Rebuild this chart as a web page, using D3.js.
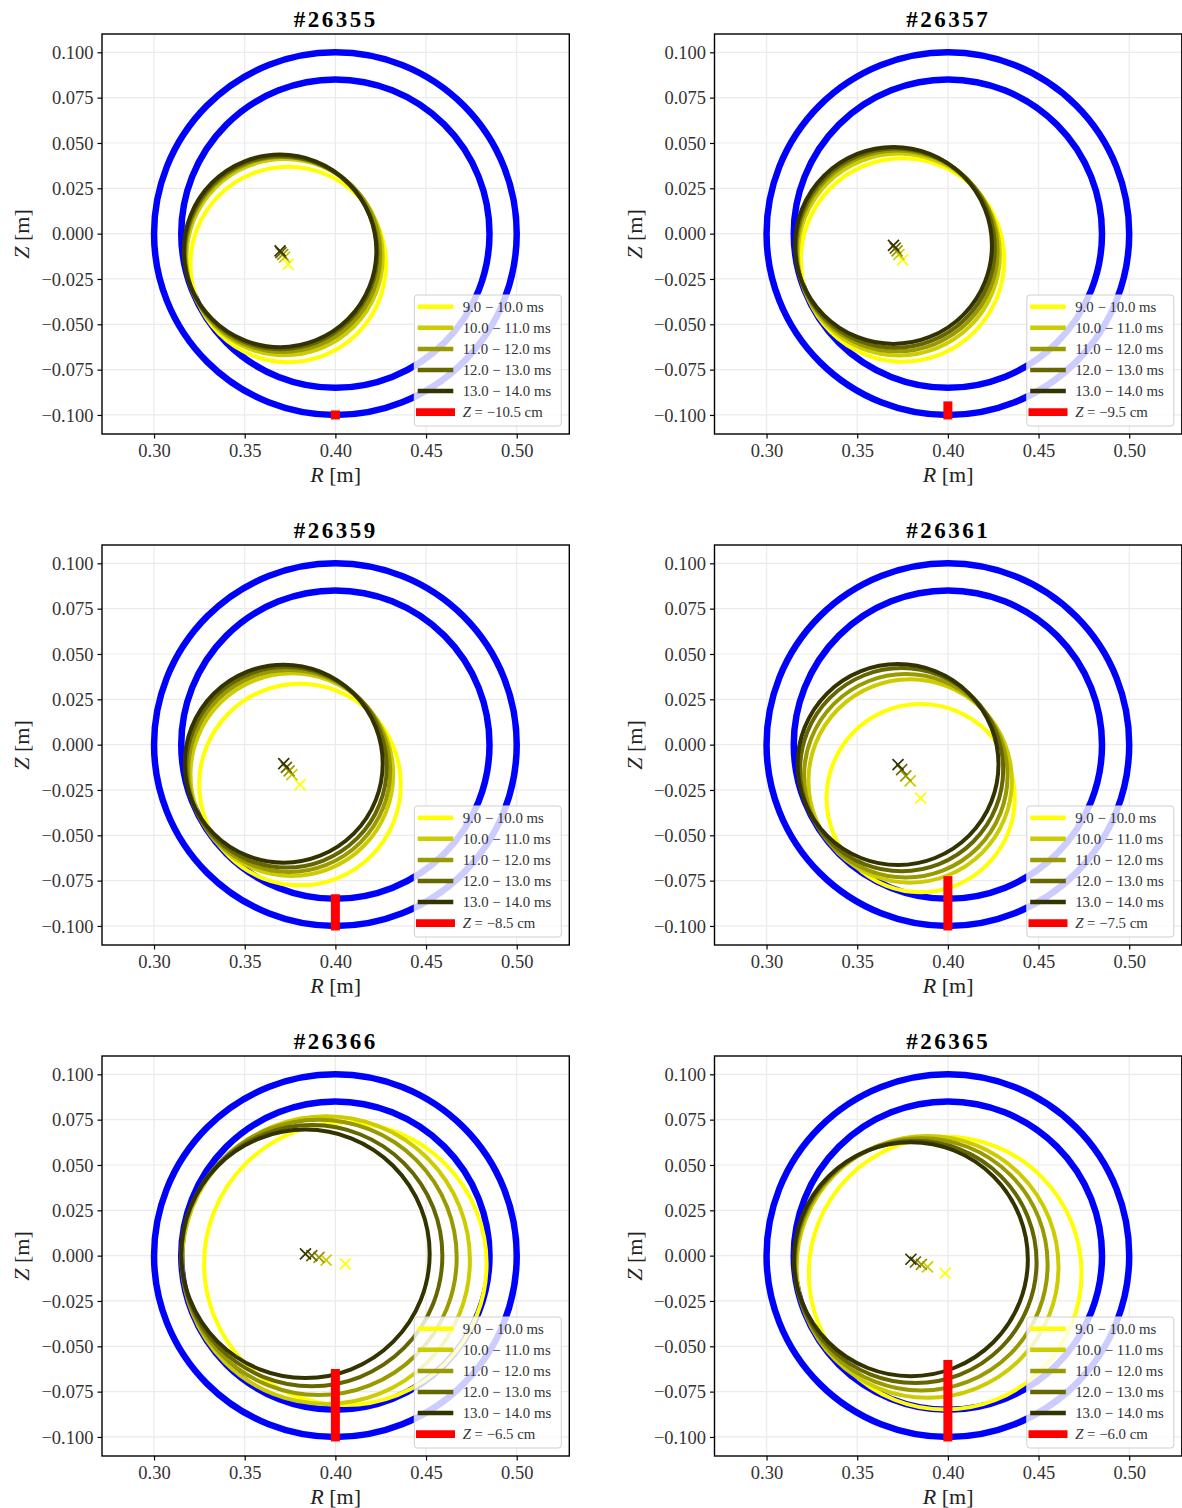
<!DOCTYPE html>
<html><head><meta charset="utf-8">
<script src="https://cdn.jsdelivr.net/npm/d3@7"></script>
<style>body{margin:0;background:#fff}svg{display:block}</style>
</head><body><svg id="c" width="1182" height="1508"></svg>
<script>
// ---------------- data ----------------
const shots = ["#26355", "#26357", "#26359", "#26361", "#26366", "#26365"];
const probeZ = [-0.105, -0.095, -0.085, -0.075, -0.065, -0.060];
const timeWindows = [[9, 10], [10, 11], [11, 12], [12, 13], [13, 14]];
const windowColors = ["#ffff00", "#cccc00", "#999900", "#666600", "#333300"];
const centreR = [
  [0.3740, 0.3720, 0.3710, 0.3700, 0.3695],
  [0.3750, 0.3730, 0.3720, 0.3710, 0.3700],
  [0.3805, 0.3760, 0.3745, 0.3730, 0.3715],
  [0.3850, 0.3792, 0.3768, 0.3745, 0.3725],
  [0.4055, 0.3949, 0.3910, 0.3870, 0.3835],
  [0.3985, 0.3888, 0.3854, 0.3821, 0.3796]
];
const centreZ = [
  [-0.0170, -0.0130, -0.0115, -0.0105, -0.0095],
  [-0.0145, -0.0115, -0.0095, -0.0080, -0.0065],
  [-0.0220, -0.0165, -0.0145, -0.0125, -0.0105],
  [-0.0295, -0.0200, -0.0172, -0.0138, -0.0110],
  [-0.0045, -0.0025, -0.0010, 0.0000, 0.0010],
  [-0.0097, -0.0062, -0.0048, -0.0035, -0.0020]
];
const plasmaRadius = [
  [0.0539, 0.0541, 0.0538, 0.0532, 0.0531],
  [0.0561, 0.0557, 0.0554, 0.0549, 0.0543],
  [0.0556, 0.0559, 0.0557, 0.0553, 0.0546],
  [0.0519, 0.0561, 0.0561, 0.0560, 0.0554],
  [0.0779, 0.0793, 0.0759, 0.0720, 0.0685],
  [0.0752, 0.0722, 0.0696, 0.0668, 0.0645]
];
const wallR = 0.40, wallZ = 0.0;
const wallRadii = [0.100, 0.085];
const xTicks = [0.30, 0.35, 0.40, 0.45, 0.50];
const yTicks = [0.100, 0.075, 0.050, 0.025, 0.000, -0.025, -0.050, -0.075, -0.100];
const xDomain = [0.2713, 0.5290];
const yDomain = [-0.1105, 0.1101];

// ---------------- layout ----------------
const svg = d3.select("#c");
const colX = [0, 612.5], rowY = [0, 511, 1022];
const ax = {left: 102, top: 34, width: 467.3, height: 400};
const serif = "'Liberation Serif', 'DejaVu Serif', serif";
const minus = s => s.replace("-", "\u2212");

const x = d3.scaleLinear().domain(xDomain).range([ax.left, ax.left + ax.width]);
const y = d3.scaleLinear().domain(yDomain).range([ax.top + ax.height, ax.top]);

const defs = svg.append("defs");
defs.append("clipPath").attr("id", "axclip").append("rect")
  .attr("x", ax.left).attr("y", ax.top).attr("width", ax.width).attr("height", ax.height);

shots.forEach((shot, si) => {
  const g = svg.append("g").attr("transform", `translate(${colX[si % 2]},${rowY[Math.floor(si / 2)]})`);
  const plot = g.append("g").attr("clip-path", "url(#axclip)");

  // grid
  plot.selectAll(".gx").data(xTicks).join("line")
    .attr("x1", d => x(d)).attr("x2", d => x(d)).attr("y1", ax.top).attr("y2", ax.top + ax.height)
    .attr("stroke", "#ebebeb").attr("stroke-width", 1.2);
  plot.selectAll(".gy").data(yTicks).join("line")
    .attr("y1", d => y(d)).attr("y2", d => y(d)).attr("x1", ax.left).attr("x2", ax.left + ax.width)
    .attr("stroke", "#ebebeb").attr("stroke-width", 1.2);

  // vessel / limiter circles
  plot.selectAll(".wall").data(wallRadii).join("circle")
    .attr("cx", x(wallR)).attr("cy", y(wallZ)).attr("r", d => x(wallR + d) - x(wallR))
    .attr("fill", "none").attr("stroke", "#0000ff").attr("stroke-width", 6.5);

  // plasma boundaries and centres
  timeWindows.forEach((tw, wi) => {
    const R = centreR[si][wi], Z = centreZ[si][wi], a = plasmaRadius[si][wi];
    plot.append("circle")
      .attr("cx", x(R)).attr("cy", y(Z)).attr("r", x(R + a) - x(R))
      .attr("fill", "none").attr("stroke", windowColors[wi]).attr("stroke-width", 4);
    const cx = x(R), cy = y(Z), m = 5.5;
    plot.append("path")
      .attr("d", `M${cx - m},${cy - m}L${cx + m},${cy + m}M${cx - m},${cy + m}L${cx + m},${cy - m}`)
      .attr("stroke", windowColors[wi]).attr("stroke-width", 1.7).attr("fill", "none");
  });

  // probe bar
  const zTop = Math.max(probeZ[si], -wallRadii[0]);
  const bw = 9;
  plot.append("rect")
    .attr("x", x(wallR) - bw / 2).attr("width", bw)
    .attr("y", y(zTop) - bw / 2).attr("height", y(-wallRadii[0]) - y(zTop) + bw)
    .attr("fill", "#ff0000");

  // axes frame
  g.append("rect").attr("x", ax.left).attr("y", ax.top).attr("width", ax.width).attr("height", ax.height)
    .attr("fill", "none").attr("stroke", "#000").attr("stroke-width", 1.4);

  // x axis
  const xAxis = d3.axisBottom(x).tickValues(xTicks).tickSize(4.5).tickPadding(5)
    .tickFormat(d => d3.format(".2f")(d));
  const gx = g.append("g").attr("transform", `translate(0,${ax.top + ax.height})`).call(xAxis);
  gx.select(".domain").remove();
  gx.selectAll(".tick line").attr("stroke", "#000").attr("stroke-width", 1.2);
  gx.selectAll(".tick text").attr("font-family", serif).attr("font-size", 18.5).attr("fill", "#333")
    .attr("dy", "0.72em");

  // y axis
  const yAxis = d3.axisLeft(y).tickValues(yTicks).tickSize(4.5).tickPadding(4)
    .tickFormat(d => minus(d3.format(".3f")(d)));
  const gy = g.append("g").attr("transform", `translate(${ax.left},0)`).call(yAxis);
  gy.select(".domain").remove();
  gy.selectAll(".tick line").attr("stroke", "#000").attr("stroke-width", 1.2);
  gy.selectAll(".tick text").attr("font-family", serif).attr("font-size", 18.5).attr("fill", "#333")
    .attr("dy", "0.34em");

  // axis labels
  const xl = g.append("text").attr("x", ax.left + ax.width / 2).attr("y", 482)
    .attr("text-anchor", "middle").attr("font-family", serif).attr("font-size", 22).attr("fill", "#222");
  xl.append("tspan").attr("font-style", "italic").text("R");
  xl.append("tspan").text(" [m]");
  const yl = g.append("text").attr("transform", `translate(29,${ax.top + ax.height / 2}) rotate(-90)`)
    .attr("text-anchor", "middle").attr("font-family", serif).attr("font-size", 22).attr("fill", "#222");
  yl.append("tspan").attr("font-style", "italic").text("Z");
  yl.append("tspan").text(" [m]");

  // title
  g.append("text").attr("x", ax.left + ax.width / 2).attr("y", 27).attr("text-anchor", "middle")
    .attr("font-family", serif).attr("font-weight", "bold").attr("font-size", 23)
    .attr("letter-spacing", 2.5).attr("fill", "#000").text(shot);

  // legend
  const lg = g.append("g");
  const lx = 414.3, ly = 295, lw = 147, lh = 131;
  lg.append("rect").attr("x", lx).attr("y", ly).attr("width", lw).attr("height", lh)
    .attr("rx", 3).attr("fill", "rgba(255,255,255,0.8)").attr("stroke", "#d0d0d0").attr("stroke-width", 1);
  const rowYs = d3.range(6).map(i => 306.7 + i * 21.1);
  timeWindows.forEach((tw, wi) => {
    lg.append("line").attr("x1", 417.7).attr("x2", 453.3).attr("y1", rowYs[wi]).attr("y2", rowYs[wi])
      .attr("stroke", windowColors[wi]).attr("stroke-width", 4.5);
    lg.append("text").attr("x", 462.7).attr("y", rowYs[wi] + 5)
      .attr("font-family", serif).attr("font-size", 14.8).attr("fill", "#333")
      .text(`${tw[0].toFixed(1)} \u2212 ${tw[1].toFixed(1)} ms`);
  });
  lg.append("line").attr("x1", 416).attr("x2", 455).attr("y1", rowYs[5]).attr("y2", rowYs[5])
    .attr("stroke", "#ff0000").attr("stroke-width", 7.7);
  const pt = lg.append("text").attr("x", 462.7).attr("y", rowYs[5] + 5)
    .attr("font-family", serif).attr("font-size", 14.8).attr("fill", "#333");
  pt.append("tspan").attr("font-style", "italic").text("Z");
  pt.append("tspan").text(` = \u2212${(-probeZ[si] * 100).toFixed(1)} cm`);
});
</script></body></html>
